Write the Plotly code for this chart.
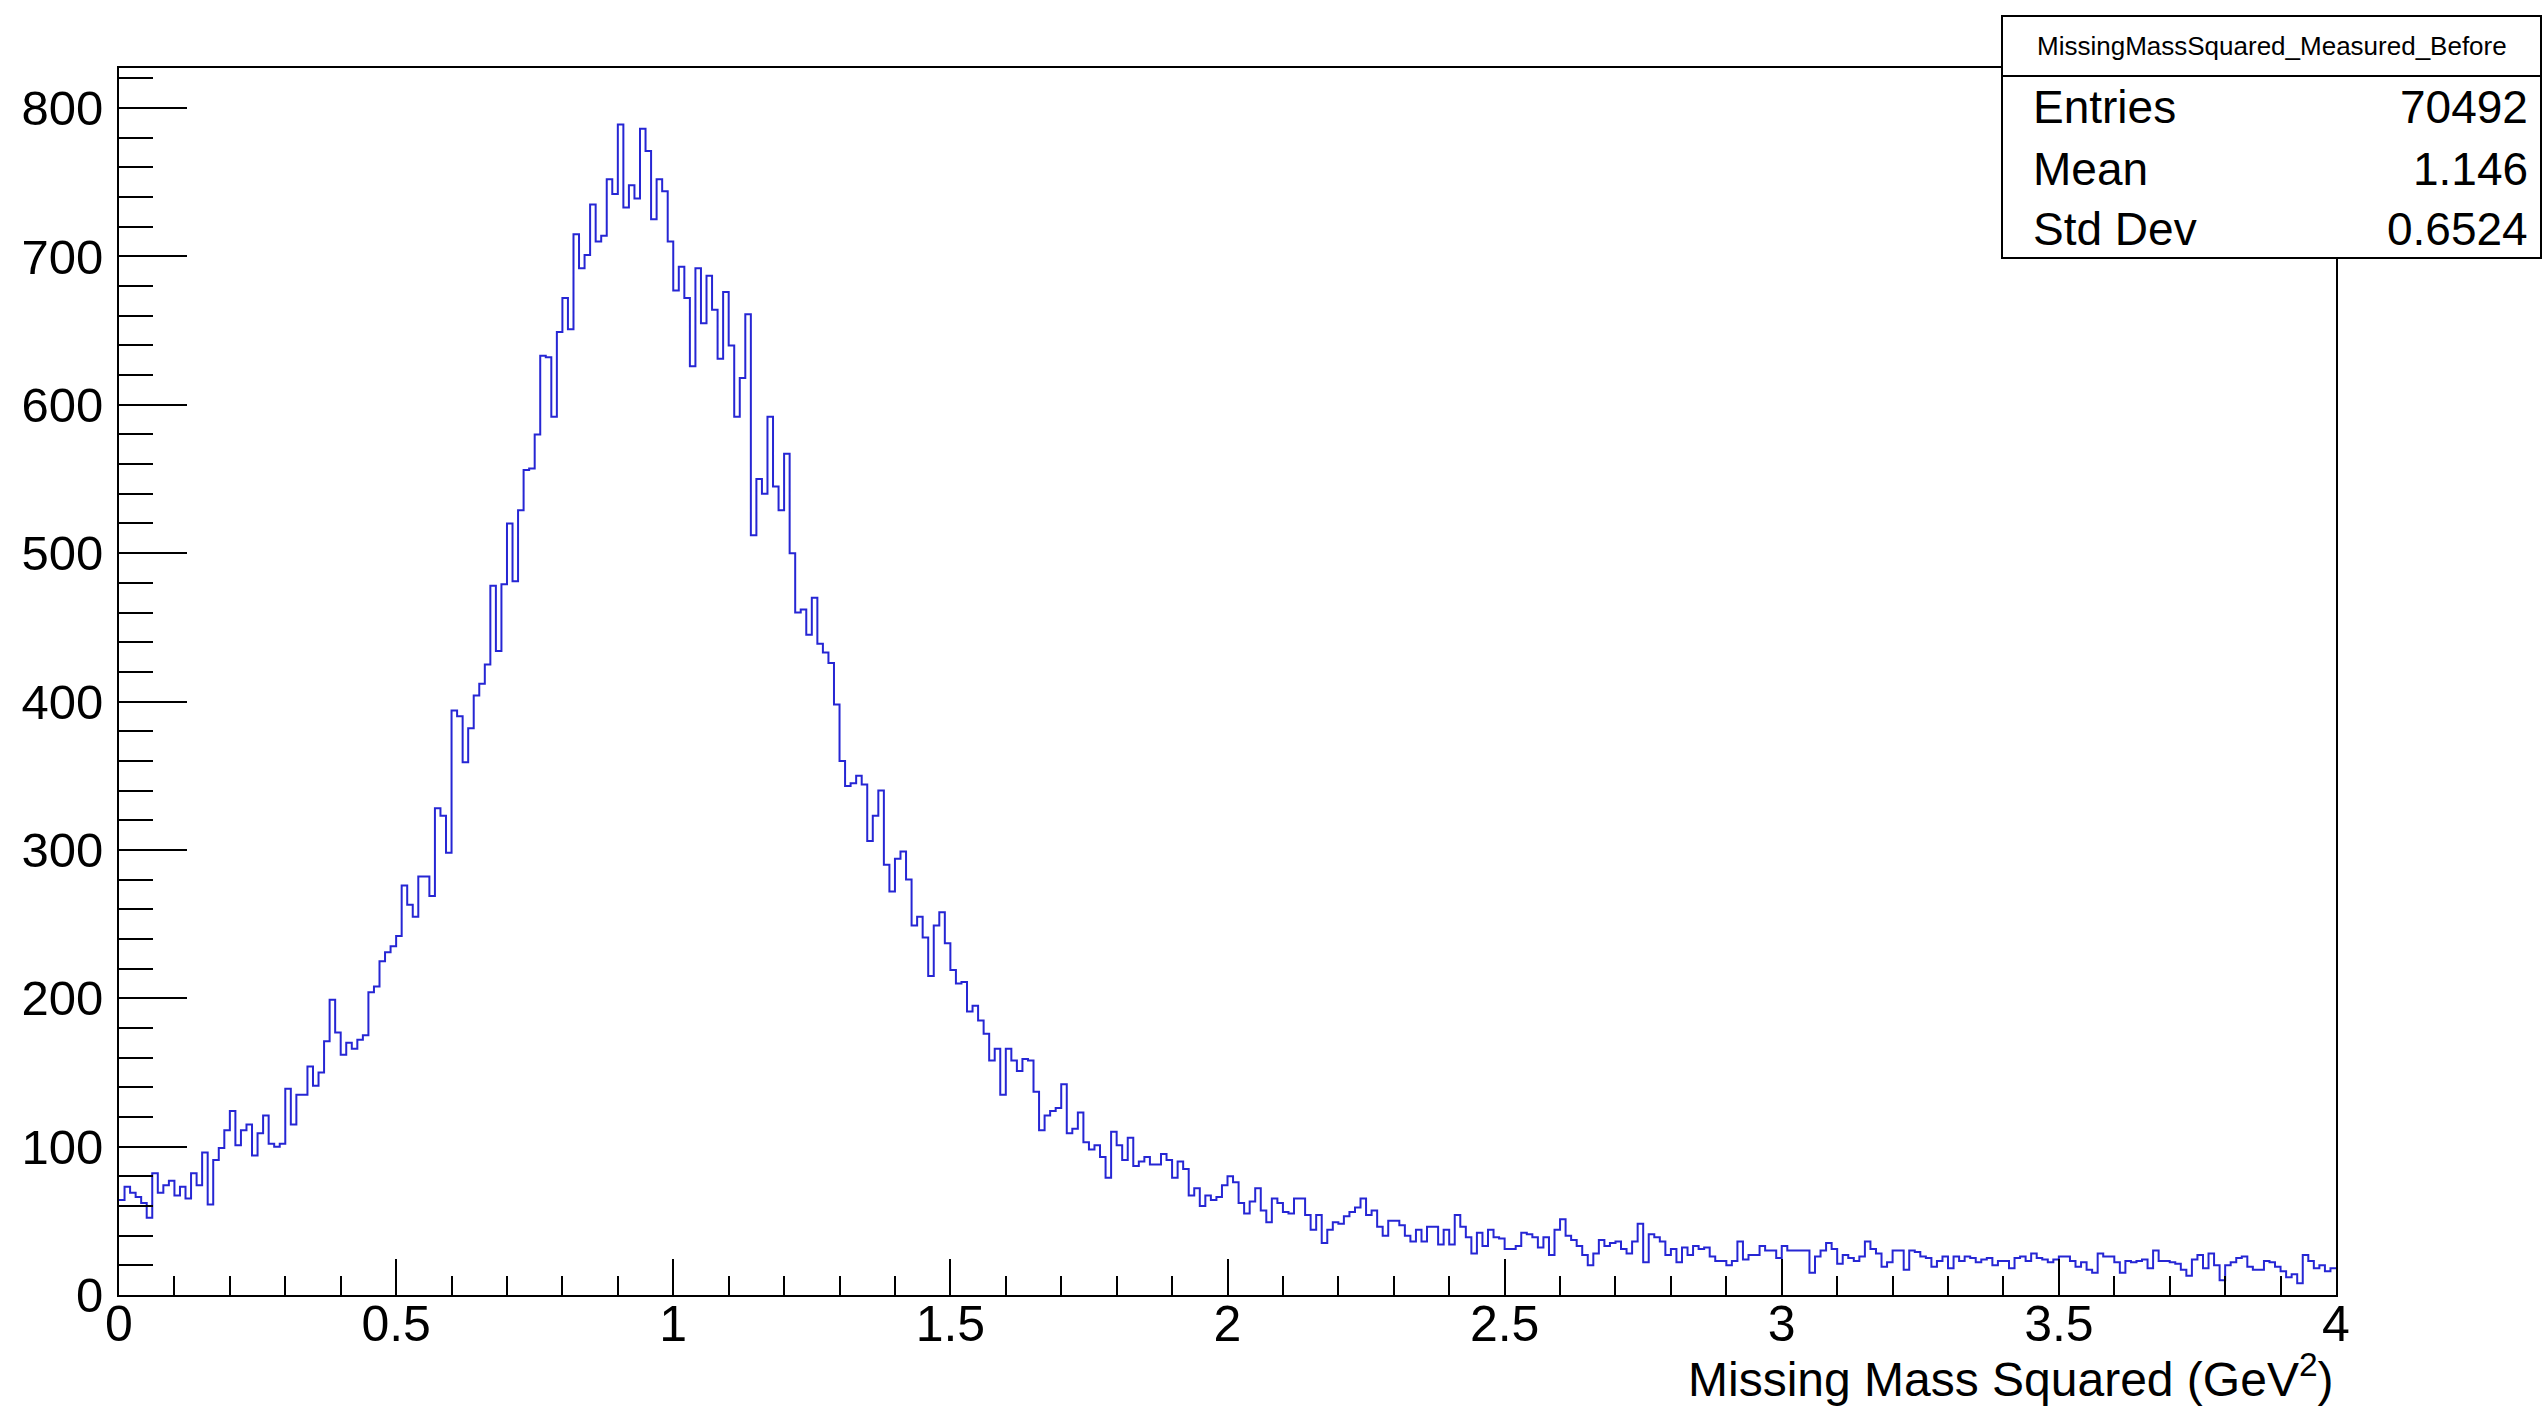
import numpy as np
import plotly.graph_objects as go

# ---- data (histogram: 400 bins of width 0.01 from 0 to 4) ----
bin_low = 0.0
bin_width = 0.01

counts_0_1 = [64, 73, 69, 66, 62, 52, 82, 69, 74, 77,
              67, 73, 65, 82, 74, 96, 61, 91, 99, 111,
              124, 101, 111, 115, 94, 109, 121, 102, 100, 102,
              139, 115, 135, 135, 154, 141, 150, 171, 199, 177,
              162, 170, 166, 172, 175, 204, 208, 225, 231, 235,
              242, 276, 263, 255, 282, 282, 269, 328, 323, 298,
              394, 390, 359, 382, 404, 412, 425, 478, 434, 479,
              520, 481, 529, 556, 557, 580, 633, 632, 592, 649,
              672, 651, 715, 692, 701, 735, 710, 714, 752, 742,
              789, 733, 748, 739, 786, 771, 725, 752, 744, 710]

counts_1_2 = [677, 693, 672, 626, 692, 655, 687, 664, 631, 676,
              640, 592, 618, 661, 512, 550, 540, 592, 545, 529,
              567, 500, 460, 462, 445, 470, 439, 433, 426, 398,
              360, 343, 345, 350, 344, 306, 323, 340, 290, 272,
              294, 299, 280, 249, 255, 241, 215, 249, 258, 237,
              219, 210, 211, 191, 195, 185, 176, 158, 166, 135,
              166, 158, 151, 159, 158, 137, 111, 121, 124, 126,
              142, 109, 112, 123, 103, 98, 101, 93, 79, 110,
              101, 91, 106, 87, 90, 93, 88, 88, 95, 91,
              79, 90, 85, 67, 72, 60, 67, 64, 66, 74]

counts_2_3 = [80, 76, 62, 55, 63, 72, 57, 49, 65, 62,
              56, 55, 65, 65, 54, 44, 54, 35, 44, 49,
              48, 53, 56, 59, 65, 54, 57, 46, 40, 50,
              50, 47, 40, 36, 44, 36, 46, 46, 34, 44,
              34, 54, 46, 39, 28, 42, 33, 44, 39, 38,
              31, 31, 33, 42, 41, 39, 32, 39, 27, 44,
              51, 40, 37, 33, 27, 20, 28, 37, 33, 35,
              36, 31, 28, 36, 48, 22, 41, 39, 36, 27,
              31, 22, 32, 27, 33, 31, 32, 26, 23, 23,
              20, 23, 36, 24, 27, 27, 33, 30, 30, 25]

counts_3_4 = [33, 30, 30, 30, 30, 15, 26, 30, 35, 31,
              21, 27, 25, 23, 26, 36, 31, 28, 19, 22,
              30, 30, 17, 30, 29, 26, 25, 19, 23, 26,
              18, 26, 23, 26, 25, 22, 24, 25, 20, 23,
              23, 18, 25, 26, 23, 28, 25, 24, 22, 24,
              26, 26, 23, 19, 22, 17, 15, 28, 26, 26,
              22, 15, 23, 22, 23, 24, 18, 30, 23, 23,
              22, 21, 17, 13, 24, 27, 18, 28, 20, 10,
              20, 22, 25, 26, 19, 17, 17, 23, 22, 19,
              16, 12, 14, 8, 27, 23, 18, 20, 16, 18]

stat_labels = ["Entries", "Mean", "Std Dev"]
stat_values = ["70492", "1.146", "0.6524"]
hist_name = "MissingMassSquared_Measured_Before"
x_title = "Missing Mass Squared (GeV<sup>2</sup>)"

counts = counts_0_1 + counts_1_2 + counts_2_3 + counts_3_4
nbins = len(counts)
edges = bin_low + bin_width * np.arange(nbins + 1)
x_step = list(edges)
y_step = counts + [counts[-1]]

FONT = "Liberation Sans, Arial, Helvetica, sans-serif"

fig = go.Figure()
fig.add_trace(go.Scatter(
    x=x_step, y=y_step, mode="lines",
    line=dict(shape="hv", color="#2626d4", width=2),
    hoverinfo="skip", showlegend=False,
))

fig.update_layout(
    width=2546, height=1407, autosize=False,
    margin=dict(l=119, r=210, t=68, b=112),
    paper_bgcolor="white", plot_bgcolor="white",
    font=dict(family=FONT, color="black"),
    showlegend=False,
)

fig.update_xaxes(
    range=[0, 4], showgrid=False, zeroline=False,
    showline=True, linecolor="black", linewidth=2, mirror=True,
    ticks="inside", ticklen=36, tickwidth=2, tickcolor="black",
    tick0=0, dtick=0.5, tickfont=dict(size=50, family=FONT, color="black"),
    minor=dict(ticks="inside", ticklen=19, tickwidth=2, tickcolor="black", dtick=0.1, showgrid=False),
    ticklabelstandoff=-16,
)
fig.update_yaxes(
    range=[0, 827], showgrid=False, zeroline=False,
    showline=True, linecolor="black", linewidth=2, mirror=True,
    ticks="inside", ticklen=68, tickwidth=2, tickcolor="black",
    tick0=0, dtick=100, tickfont=dict(size=49, family=FONT, color="black"),
    minor=dict(ticks="inside", ticklen=34, tickwidth=2, tickcolor="black", dtick=20, showgrid=False),
    ticklabelstandoff=4,
)

# ---- stats box (paper coords; plot area x:119..2336, y:68..1295 px) ----
def px_x(px):
    return (px - 119) / 2217.0

def px_y(py):
    return (1295 - py) / 1227.0

bx0, bx1 = px_x(2002), px_x(2541)
by0, by1 = px_y(258), px_y(16)
fig.add_shape(type="rect", xref="paper", yref="paper",
              x0=bx0, x1=bx1, y0=by0, y1=by1,
              fillcolor="white", line=dict(color="black", width=2), layer="above")
fig.add_shape(type="line", xref="paper", yref="paper",
              x0=bx0, x1=bx1, y0=px_y(76), y1=px_y(76),
              line=dict(color="black", width=2), layer="above")

fig.add_annotation(xref="paper", yref="paper", x=(bx0 + bx1) / 2, y=px_y(46),
                   text=hist_name, showarrow=False, xanchor="center", yanchor="middle",
                   font=dict(size=26, family=FONT, color="black"))
row_y = [107, 169, 229]
for lab, val, ry in zip(stat_labels, stat_values, row_y):
    fig.add_annotation(xref="paper", yref="paper", x=px_x(2031), y=px_y(ry),
                       text=lab, showarrow=False, xanchor="left", yanchor="middle",
                       font=dict(size=46, family=FONT, color="black"))
    fig.add_annotation(xref="paper", yref="paper", x=px_x(2530), y=px_y(ry),
                       text=val, showarrow=False, xanchor="right", yanchor="middle",
                       font=dict(size=46, family=FONT, color="black"))

# ---- x-axis title, right aligned (ROOT style) ----
fig.add_annotation(xref="paper", yref="paper", x=1.0, y=px_y(1376),
                   text=x_title, showarrow=False, xanchor="right", yanchor="middle",
                   font=dict(size=48, family=FONT, color="black"))

fig.write_html("out.html", config={"displayModeBar": False},
               post_script="document.body.style.margin='0';")
